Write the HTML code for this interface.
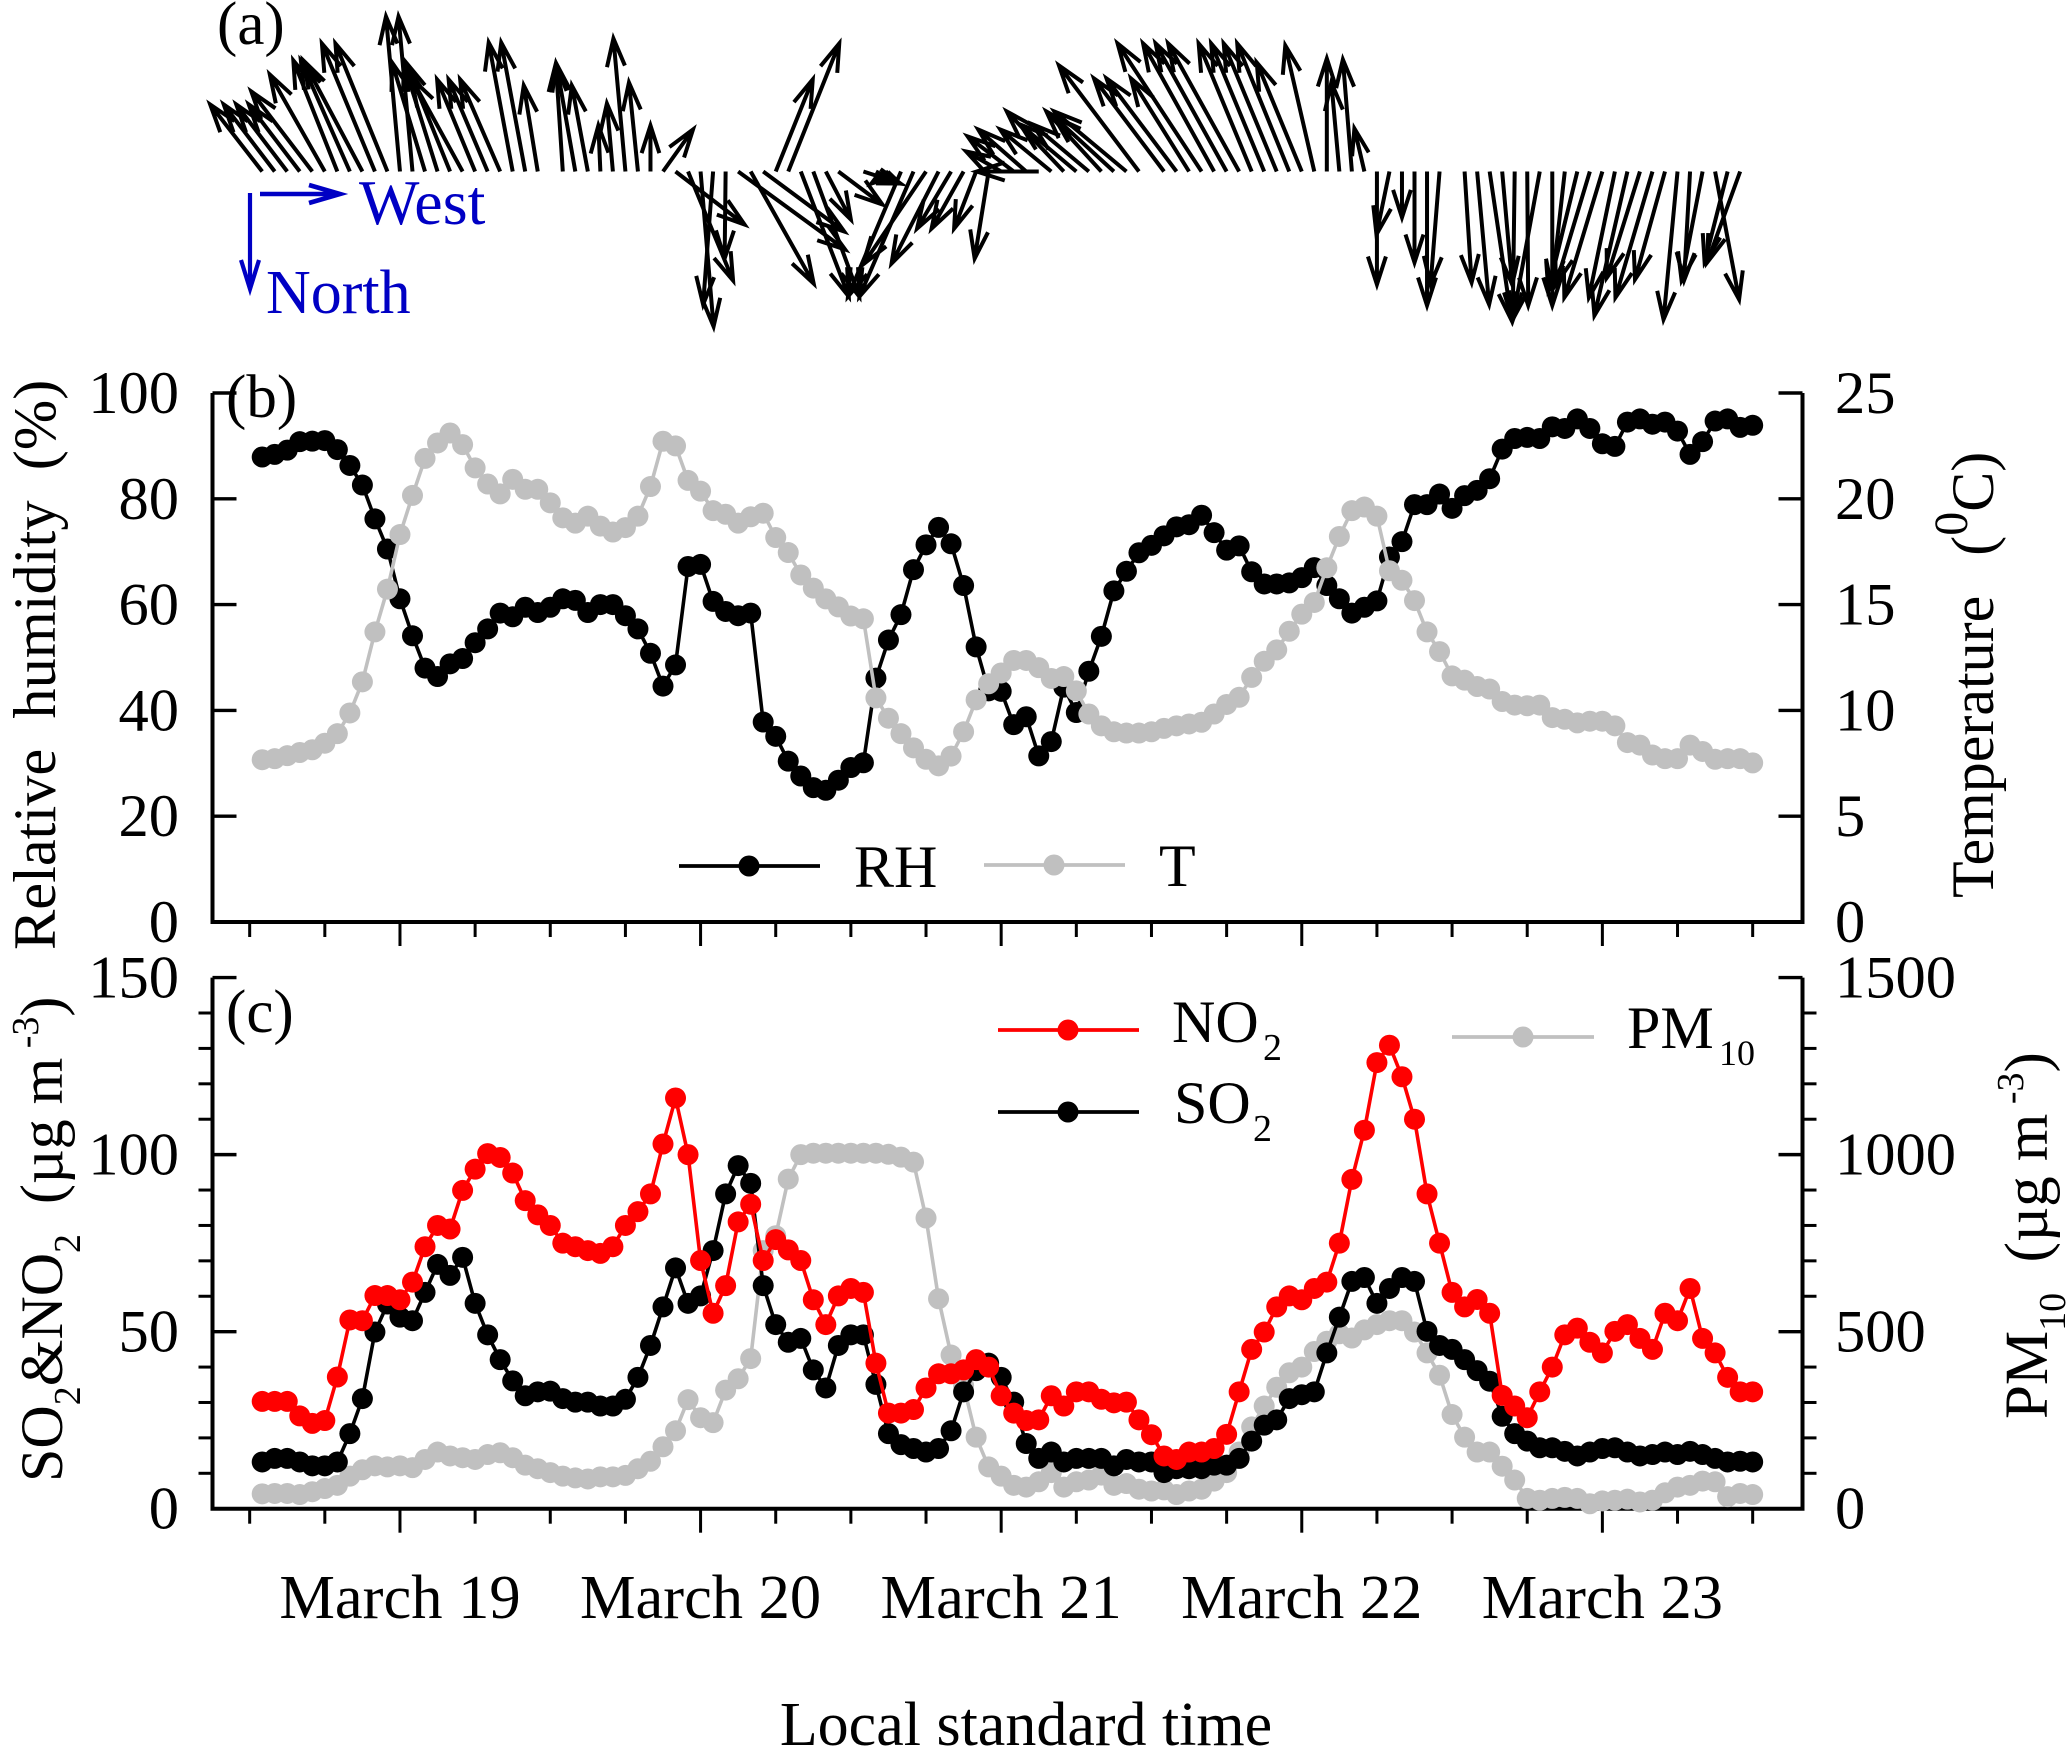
<!DOCTYPE html>
<html lang="en">
<head>
<meta charset="utf-8">
<title>Wind, RH, temperature and pollutant time series</title>
<style>
html,body{margin:0;padding:0;background:#fff;}
svg{display:block;}
text{font-family:"Liberation Serif",serif;fill:#000;white-space:pre;}
.blue{fill:#0000c4;}
</style>
</head>
<body>
<svg id="chart" xmlns="http://www.w3.org/2000/svg" width="2067" height="1747" viewBox="0 0 2067 1747">
  <rect x="0" y="0" width="2067" height="1747" fill="#fff"/>
  <g id="wind"></g>
  <g id="axes"></g>
  <g id="seriesB"></g>
  <g id="seriesC"></g>
  <g id="legend"></g>

  <text x="217" y="44" font-size="61">(a)</text>
  <text x="226" y="417" font-size="61">(b)</text>
  <text x="226" y="1032" font-size="61">(c)</text>

  <text class="blue" x="359" y="224" font-size="64">West</text>
  <text class="blue" x="266" y="313" font-size="62">North</text>
  <path d="M260 194H338M309 185L340 194L309 203" fill="none" stroke="#0000c4" stroke-width="4.6"/>
  <path d="M250 193V286M241 260L250 289L259 260" fill="none" stroke="#0000c4" stroke-width="4.2"/>

  <text transform="translate(55,950) rotate(-90)" font-size="60.4">Relative  humidity  (%)</text>
  <text transform="translate(1993,898) rotate(-90)" font-size="60">Temperature<tspan dx="40">(</tspan><tspan font-size="48" dy="-26">0</tspan><tspan dy="26">C)</tspan></text>
  <text transform="translate(62,1482) rotate(-90)" font-size="60">SO<tspan font-size="38" dy="18">2</tspan><tspan dy="-18">&amp;NO</tspan><tspan font-size="38" dy="18">2</tspan><tspan dy="-18">  (µg m</tspan><tspan font-size="38" dy="-24"> -3</tspan><tspan dy="24">)</tspan></text>
  <text transform="translate(2047,1419) rotate(-90)" font-size="61">PM<tspan font-size="38" dy="18">10</tspan><tspan dy="-18">  (µg m</tspan><tspan font-size="38" dy="-24"> -3</tspan><tspan dy="24">)</tspan></text>
  <text x="1026" y="1745" font-size="62" text-anchor="middle">Local standard time</text>
</svg>

<script>
// ---- data ----
const rh = [87.9,88.4,89.2,90.8,90.9,91.0,89.3,86.3,82.6,76.2,70.5,61.1,54.1,48.0,46.4,48.8,49.8,52.8,55.4,58.4,57.7,59.5,58.5,59.5,61.1,60.8,58.5,60.0,60.0,57.9,55.4,50.8,44.6,48.6,67.2,67.6,60.6,58.7,57.9,58.4,37.8,35.1,30.4,27.6,25.4,24.9,26.8,29.2,30.1,46.1,53.3,58.1,66.6,71.3,74.6,71.5,63.6,52.0,43.7,43.6,37.3,38.8,31.4,34.1,44.4,39.6,47.4,54.0,62.6,66.3,69.8,71.2,73.0,74.7,75.1,76.9,73.6,70.3,71.1,66.2,63.9,63.9,64.1,65.1,67.0,63.6,61.1,58.4,59.5,60.7,69.0,71.9,78.9,78.9,80.9,78.2,80.6,81.6,83.8,89.4,91.4,91.6,91.4,93.6,93.3,95.1,93.3,90.4,89.9,94.5,95.1,94.1,94.5,92.8,88.4,90.8,94.7,95.1,93.5,93.9];
const temperature = [7.67,7.72,7.86,8.01,8.14,8.45,8.90,9.88,11.35,13.71,15.73,18.31,20.16,21.91,22.64,23.11,22.56,21.46,20.70,20.23,20.92,20.45,20.45,19.81,19.10,18.85,19.18,18.71,18.43,18.64,19.18,20.58,22.72,22.50,20.87,20.36,19.44,19.27,18.85,19.15,19.32,18.17,17.46,16.40,15.78,15.27,14.89,14.46,14.33,10.59,9.63,8.90,8.23,7.69,7.38,7.84,8.99,10.50,11.26,11.77,12.36,12.36,12.02,11.51,11.60,10.92,9.83,9.27,8.99,8.93,8.93,8.99,9.15,9.27,9.36,9.44,9.83,10.28,10.62,11.56,12.32,12.86,13.74,14.55,15.10,16.74,18.22,19.44,19.61,19.18,16.60,16.15,15.19,13.71,12.78,11.63,11.43,11.13,11.01,10.42,10.25,10.22,10.25,9.66,9.58,9.41,9.49,9.49,9.27,8.48,8.36,7.89,7.72,7.72,8.36,8.06,7.69,7.72,7.72,7.52];
const no2 = [30.3,30.3,30.3,26.2,24.1,24.9,37.2,53.3,53.1,60.2,60.2,59.0,64.0,74.0,80.0,79.0,89.9,95.9,100.3,99.2,94.8,87.0,83.0,80.0,75.0,74.0,72.9,72.1,74.0,80.0,83.9,88.9,103.0,116.0,100.0,70.1,55.2,63.0,81.0,86.0,70.1,76.0,73.1,70.1,59.0,52.0,60.1,62.2,61.1,41.1,27.0,27.0,28.0,34.1,38.1,38.1,39.2,42.1,40.0,31.9,27.0,24.9,25.1,31.9,29.0,33.0,33.0,30.9,29.9,30.1,25.1,20.9,14.9,13.9,16.0,16.0,17.0,21.0,33.0,45.0,49.9,57.0,60.1,59.0,62.2,64.0,75.0,93.0,106.9,126.0,130.9,122.0,110.0,88.9,75.0,61.1,57.0,59.1,55.2,32.0,29.0,25.7,33.0,40.0,49.1,51.0,47.0,44.0,50.1,52.0,48.1,45.0,55.2,53.1,62.2,48.1,44.0,37.1,33.0,33.0];
const so2 = [13.2,14.2,14.2,13.2,12.1,12.1,13.2,21.2,31.1,49.9,57.8,54.1,53.1,61.1,69.0,65.9,71.0,58.0,49.1,42.1,36.1,31.9,33.0,33.2,31.1,30.1,30.1,29.0,29.0,30.9,37.1,46.1,57.0,68.0,58.0,60.1,72.9,88.9,96.9,91.9,63.0,52.0,47.0,48.1,39.2,34.1,46.1,49.1,49.1,35.1,21.2,18.1,17.0,16.0,17.0,22.0,33.0,39.0,41.1,37.1,30.1,18.4,14.2,16.0,13.2,14.2,14.2,14.2,12.1,13.9,13.2,13.2,10.2,11.3,11.3,11.3,12.3,12.3,14.2,19.1,23.6,25.1,31.1,32.2,33.0,44.0,54.1,64.2,65.3,58.0,62.2,65.3,64.2,50.1,46.1,45.0,42.1,39.0,36.0,26.1,21.2,19.1,17.2,17.2,16.2,14.9,16.0,17.0,17.2,16.0,14.9,15.3,16.0,15.3,16.2,15.3,14.2,13.2,13.4,13.2];
const pm10 = [42,43,43,40,48,57,66,92,110,121,118,121,116,139,160,149,144,139,153,158,144,123,113,102,92,87,84,90,90,94,113,134,175,220,308,257,243,335,367,424,729,771,931,1000,1004,1004,1004,1004,1004,1004,1001,993,979,821,593,434,348,202,118,92,66,61,76,102,61,76,81,95,66,71,55,50,53,40,50,55,78,102,160,231,290,343,384,400,444,473,494,482,505,520,531,531,499,440,377,266,202,160,160,120,81,29,24,29,32,29,14,22,24,27,19,24,45,61,66,78,76,34,43,40];
// wind components: positive west-key = toward right, positive north-key = downward; null = no record
const windWest = [-5.2,-5.1,-5.1,-5.1,-6.1,-5.5,-4.4,-4.9,-5.9,-5.3,-5.2,-1.4,-1.4,-3.3,-3.4,-4.4,-5.1,-3.8,-3.9,-4.0,-2.4,-2.4,-1.4,null,-0.7,-1.9,-1.6,-0.2,-0.6,-1.2,-0.9,0,3.0,6.9,4.5,1.3,-1.0,-0.1,10.7,6.3,8.1,3.7,5.1,4.8,4.6,2.5,4.4,null,3.7,2.4,-1.7,-5.3,-5.4,-6.3,-4.7,-3.4,-3.2,-2.2,-1.4,-3.5,-4.6,-4.8,-6.2,-5.1,-5.7,-5.6,-5.6,-5.5,-6.0,-7.2,-8.0,null,-7.0,-7.0,-5.8,-8.4,-7.1,-7.1,-7.1,-5.3,-5.3,-5.3,-5.2,-4.5,-2.9,0,-0.8,-0.9,-1.0,0,-1.3,0,0,0,-0.9,null,0.7,1.2,2.2,1.0,-0.2,0.1,-2.7,0,-1.3,-2.9,-3.4,-3.8,-2.6,-3.3,-3.3,-3.7,-3.0,-1.4,-0.6,-2.1,2.4,-2.3,-3.3,null];
const windNorth = [-6.7,-6.7,-6.7,-6.7,-8.0,-9.7,-11.1,-11.1,-11.1,-12.8,-12.8,-15.5,-15.5,-10.9,-10.9,-10.9,-9.3,-9.2,-9.2,-9.2,-12.9,-12.9,-8.6,null,-10.8,-10.8,-8.6,-4.6,-6.8,-13.3,-8.9,-4.6,-4.2,5.3,10.9,15.5,13.3,8.7,7.8,11.2,6.0,-9.2,-12.8,12.5,12.5,4.8,3.3,null,1.2,1.2,1.2,12.5,12.5,9.3,9.2,5.7,5.7,5.7,8.7,-2.0,-3.5,-4.2,0,-4.2,-6.0,-4.7,-4.7,-6.0,-5.5,-6.0,-10.6,null,-9.3,-9.3,-9.3,-12.8,-12.8,-12.8,-12.8,-12.8,-12.8,-12.8,-12.8,-10.9,-12.6,-11.3,-8.9,-11.2,-4.3,11.3,6.3,4.6,9.1,13.4,11.3,null,11.1,13.3,14.9,11.3,14.9,13.4,14.8,13.4,11.6,11.9,11.3,12.6,12.6,14.4,10.6,12.6,10.8,14.8,10.9,10.9,12.8,9.1,9.1,null];
const rhTicks = ["0","20","40","60","80","100"];
const tempTicks = ["0","5","10","15","20","25"];
const concTicks = ["0","50","100","150"];
const pmTicks = ["0","500","1000","1500"];
const dayLabels = ["March 19","March 20","March 21","March 22","March 23"];

// ---- axis functions ----
const NS = "http://www.w3.org/2000/svg";
const L = 212.5, R = 1802.5, B_TOP = 393, B_BOT = 922, C_TOP = 977.6, C_BOT = 1508.7;
const TICK_FONT = 60.5, DAY_FONT = 62.5;
function xHour(i){ return 262.2 + 12.525 * i; }
function yRH(v){ return B_BOT - v * (B_BOT - B_TOP) / 100; }
function yTemp(v){ return B_BOT - v * (B_BOT - B_TOP) / 25; }
function yConc(v){ return C_BOT - v * (C_BOT - C_TOP) / 150; }
function yPM(v){ return C_BOT - v * (C_BOT - C_TOP) / 1500; }
function make(parent, tag){ const el = document.createElementNS(NS, tag); parent.appendChild(el); return el; }
function seg(parent, x1, y1, x2, y2, w){
  const el = make(parent, "line");
  el.setAttribute("x1", x1); el.setAttribute("y1", y1);
  el.setAttribute("x2", x2); el.setAttribute("y2", y2);
  el.setAttribute("stroke", "#000"); el.setAttribute("stroke-width", w);
  return el;
}
function label(parent, x, y, str, anchor, size){
  const el = make(parent, "text");
  el.setAttribute("x", x); el.setAttribute("y", y);
  el.setAttribute("text-anchor", anchor); el.setAttribute("font-size", size);
  el.textContent = str;
  return el;
}

// ---- panel (a): wind arrows ----
const windG = document.getElementById("wind");
const WIND_BASE = 171.5, WIND_SCALE = 10, HEAD = 28, BARB = 9;
windWest.forEach(function(u, i){
  const v = windNorth[i];
  if (u === null || v === null) return;
  const x0 = xHour(i), y0 = WIND_BASE;
  const x1 = x0 + u * WIND_SCALE, y1 = y0 + v * WIND_SCALE;
  const len = Math.hypot(x1 - x0, y1 - y0) || 1;
  const ux = (x1 - x0) / len, uy = (y1 - y0) / len;
  const hl = Math.min(HEAD, len * 0.6), hw = BARB * hl / HEAD;
  const bx = x1 - ux * hl, by = y1 - uy * hl;
  const d = "M" + x0 + " " + y0 + "L" + x1 + " " + y1 +
    "M" + (bx - uy * hw) + " " + (by + ux * hw) + "L" + x1 + " " + y1 +
    "L" + (bx + uy * hw) + " " + (by - ux * hw);
  const arrow = make(windG, "path");
  arrow.setAttribute("d", d);
  arrow.setAttribute("fill", "none");
  arrow.setAttribute("stroke", "#000");
  arrow.setAttribute("stroke-width", "4");
  
  
});

// ---- axes ----
const axesG = document.getElementById("axes");
function frame(top, bot, nm){
  const p = make(axesG, "path");
  p.setAttribute("d", "M" + L + " " + top + "V" + bot + "H" + R + "V" + top);
  p.setAttribute("fill", "none");
  p.setAttribute("stroke", "#000");
  p.setAttribute("stroke-width", "4");
  
  
}
frame(B_TOP, B_BOT, "panel-b-frame");
frame(C_TOP, C_BOT, "panel-c-frame");

function xTicks(yBase){
  for (let k = 0; k <= 20; k++){
    const x = xHour(-1 + 6 * k);
    const major = (k - 2) % 4 === 0;
    const t = seg(axesG, x, yBase, x, yBase + (major ? 24 : 15), 3);
    
    
  }
}
xTicks(B_BOT);
xTicks(C_BOT);
dayLabels.forEach(function(s, j){
  const t = label(axesG, xHour(-1 + 6 * (2 + 4 * j)), 1618, s, "middle", DAY_FONT);
  
  
});

rhTicks.forEach(function(s){
  const y = yRH(+s);
  if (+s > 0){
    const a = seg(axesG, L, y, L + 24, y, 3.4);
    
    
  }
  const t = label(axesG, 179, y + 20, s, "end", TICK_FONT);
  
  
});
tempTicks.forEach(function(s){
  const y = yTemp(+s);
  if (+s > 0){
    const a = seg(axesG, R - 24, y, R, y, 3.4);
    
    
  }
  const t = label(axesG, 1835, y + 20, s, "start", TICK_FONT);
  
  
});
concTicks.forEach(function(s){
  const y = yConc(+s);
  if (+s > 0){
    const a = seg(axesG, L, y, L + 24, y, 3.4);
    
    
  }
  const t = label(axesG, 179, y + 20, s, "end", TICK_FONT);
  
  
});
pmTicks.forEach(function(s){
  const y = yPM(+s);
  if (+s > 0){
    const a = seg(axesG, R - 24, y, R, y, 3.4);
    
    
  }
  const t = label(axesG, 1835, y + 20, s, "start", TICK_FONT);
  
  
});
for (let v = 10; v < 150; v += 10){
  if (v % 50 === 0) continue;
  const y = yConc(v);
  const a = seg(axesG, L - 14, y, L, y, 3);
  
  
  const b = seg(axesG, R, y, R + 14, y, 3);
  
  
}

// ---- series ----
function drawSeries(parentId, values, yFn, color, nm){
  const parent = document.getElementById(parentId);
  const g = make(parent, "g");
  
  
  const pts = values.map(function(v, i){ return xHour(i) + "," + yFn(v); }).join(" ");
  const line = make(g, "polyline");
  line.setAttribute("points", pts);
  line.setAttribute("fill", "none");
  line.setAttribute("stroke", color);
  line.setAttribute("stroke-width", "3.6");
  
  
  values.forEach(function(v, i){
    const c = make(g, "circle");
    c.setAttribute("cx", xHour(i));
    c.setAttribute("cy", yFn(v));
    c.setAttribute("r", "10.5");
    c.setAttribute("fill", color);
    
    
  });
}
drawSeries("seriesB", rh, yRH, "#000000", "rh");
drawSeries("seriesB", temperature, yTemp, "#c0c0c0", "temperature");
drawSeries("seriesC", pm10, yPM, "#c0c0c0", "pm10");
drawSeries("seriesC", so2, yConc, "#000000", "so2");
drawSeries("seriesC", no2, yConc, "#ff0000", "no2");

// ---- legends ----
const legendG = document.getElementById("legend");
function legendKey(x1, x2, xm, y, color, nm){
  const l = make(legendG, "line");
  l.setAttribute("x1", x1); l.setAttribute("x2", x2);
  l.setAttribute("y1", y); l.setAttribute("y2", y);
  l.setAttribute("stroke", color); l.setAttribute("stroke-width", "3.8");
  
  
  const c = make(legendG, "circle");
  c.setAttribute("cx", xm); c.setAttribute("cy", y); c.setAttribute("r", "10.5");
  c.setAttribute("fill", color);
  
  
}
legendKey(679, 820, 749, 866, "#000000", "rh");
legendKey(984, 1125, 1054, 865, "#c0c0c0", "temperature");
legendKey(998, 1139, 1068, 1030, "#ff0000", "no2");
legendKey(998, 1139, 1068, 1112, "#000000", "so2");
legendKey(1452, 1594, 1523, 1037, "#c0c0c0", "pm10");

const rhLab = label(legendG, 854, 887, "RH", "start", 60);


const tLab = label(legendG, 1159, 886, "T", "start", 60);


const noLab = label(legendG, 1172, 1042, "NO", "start", 60);


const noSub = label(legendG, 1263, 1060, "2", "start", 38);


const soLab = label(legendG, 1174, 1123, "SO", "start", 60);


const soSub = label(legendG, 1253, 1141, "2", "start", 38);


const pmLab = label(legendG, 1627, 1048, "PM", "start", 60);


const pmSub = label(legendG, 1719, 1065, "10", "start", 36);


</script>
</body>
</html>
